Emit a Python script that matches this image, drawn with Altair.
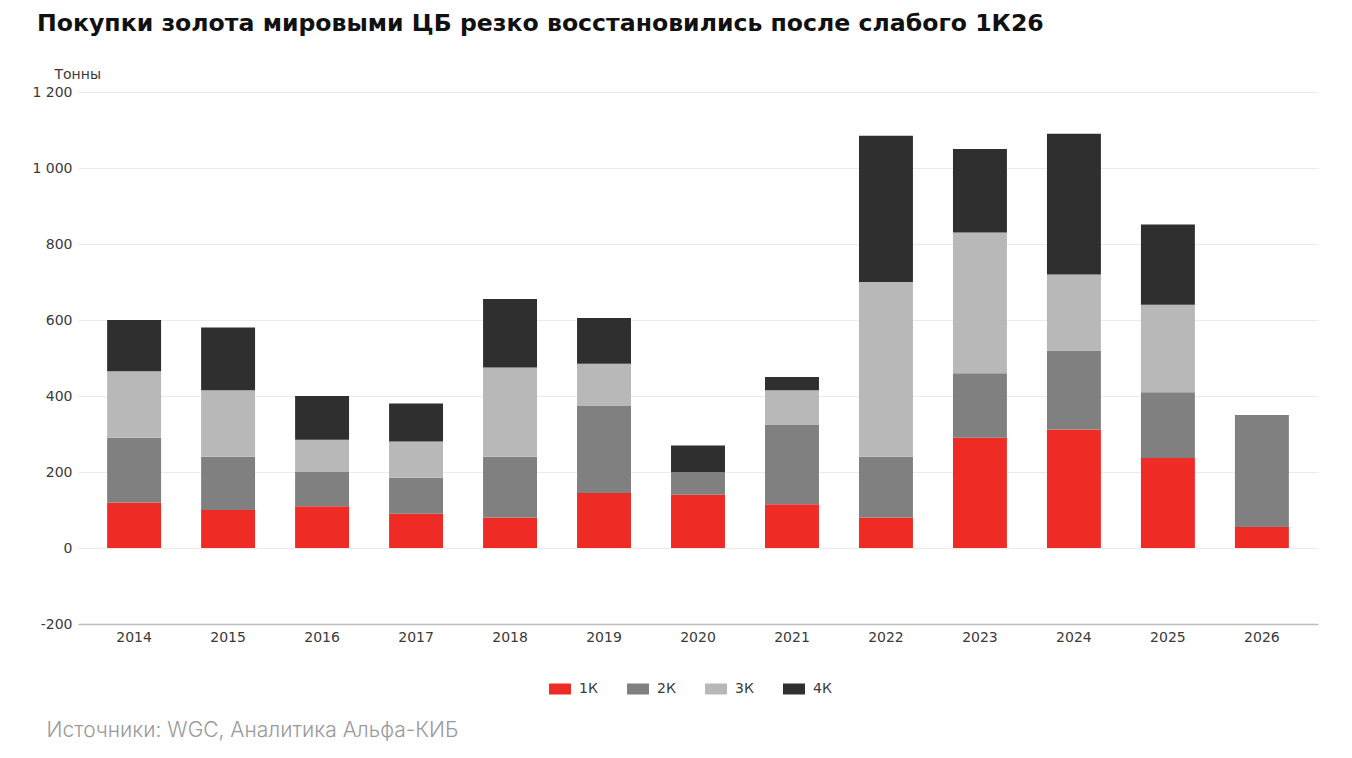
import altair as alt
import pandas as pd

years = [str(y) for y in range(2014, 2027)]
quarters = ["1К", "2К", "3К", "4К"]
q1 = [120, 100, 110, 90, 80, 145, 140, 115, 80, 290, 312, 237, 55]
q2 = [170, 140, 90, 95, 160, 230, 60, 210, 160, 170, 208, 173, 295]
q3 = [175, 175, 85, 95, 235, 110, 0, 90, 460, 370, 200, 230, None]
q4 = [135, 165, 115, 100, 180, 120, 70, 35, 385, 220, 370, 211, None]
colors = ["#EF2B26", "#808080", "#B8B8B8", "#2F2F2F"]

rows = []
for qi, (q, vals) in enumerate(zip(quarters, [q1, q2, q3, q4])):
    for y, v in zip(years, vals):
        if v is not None:
            rows.append({"year": y, "q": q, "value": v, "ord": qi})
df = pd.DataFrame(rows)

font = "DejaVu Sans"

chart = alt.Chart(df).mark_bar().encode(
    x=alt.X("year:N", sort=years,
            scale=alt.Scale(paddingInner=0.426, paddingOuter=0.31),
            axis=alt.Axis(title="Источники: WGC, Аналитика Альфа-КИБ",
                          titleAnchor="start", titleAlign="left", titleX=-32, titleY=95,
                          titleFont="Inter", titleFontWeight=300, titleFontSize=21,
                          titleColor="#9A9A9A",
                          labelAngle=0, ticks=False, labelPadding=6,
                          labelFont=font, labelFontSize=14, labelColor="#3A3A3A",
                          domainColor="#BDBDBD", domainWidth=1.5, grid=False)),
    y=alt.Y("value:Q", stack="zero",
            scale=alt.Scale(domain=[-200, 1200], nice=False),
            axis=alt.Axis(values=[-200, 0, 200, 400, 600, 800, 1000, 1200],
                          labelExpr="datum.value >= 1000 ? floor(datum.value/1000) + ' ' + format(datum.value % 1000, '03d') : '' + datum.value",
                          title="Тонны", titleAngle=0, titleAlign="left", titleBaseline="bottom",
                          titleX=-24, titleY=-11, titleFont=font, titleFontSize=14,
                          titleFontWeight="normal", titleColor="#3A3A3A",
                          ticks=False, domain=False, labelPadding=6,
                          labelFont=font, labelFontSize=14, labelColor="#3A3A3A",
                          gridColor="#EBEBEB", gridWidth=1)),
    color=alt.Color("q:N", sort=quarters,
                    scale=alt.Scale(domain=quarters, range=colors),
                    legend=alt.Legend(title=None, orient="none", direction="horizontal",
                                      legendX=471, legendY=586,
                                      symbolType="M-1,-0.5H1V0.5H-1Z", symbolSize=484,
                                      symbolStrokeWidth=0, labelFont=font, labelFontSize=14,
                                      labelColor="#3A3A3A", columnPadding=29, labelOffset=8)),
    order=alt.Order("ord:Q", sort="ascending"),
).properties(
    width=1240, height=532,
    title=alt.TitleParams("Покупки золота мировыми ЦБ резко восстановились после слабого 1К26",
                          anchor="start", frame="group", dx=-41, offset=31,
                          font="DejaVu Sans", fontSize=23.6, fontWeight="bold", color="#111111"),
    autosize=alt.AutoSizeParams(type="none"),
    padding={"left": 70, "top": 84, "right": 26, "bottom": 126},
).configure_view(stroke=None)

chart.save("out.html", embed_options={"renderer": "svg", "actions": False})
